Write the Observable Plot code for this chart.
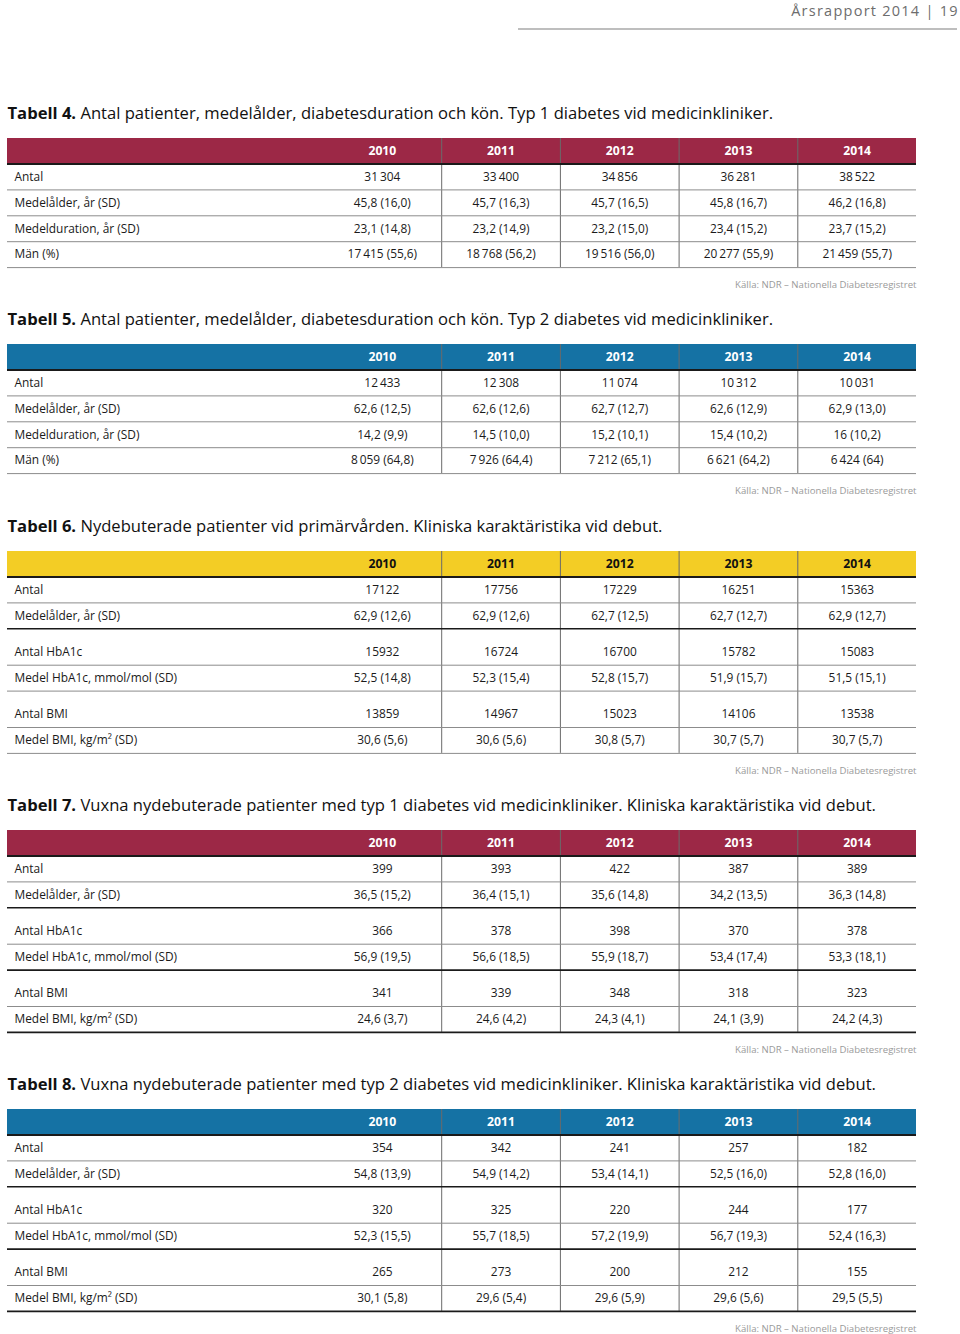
<!DOCTYPE html>
<html>
<head>
<meta charset="utf-8">
<script src="https://cdn.jsdelivr.net/npm/d3@7"></script>
<script src="https://cdn.jsdelivr.net/npm/@observablehq/plot@0.6"></script>
<style>
  html, body { margin: 0; padding: 0; background: #fff; }
  svg { display: block; }
</style>
</head>
<body>
<div id="chart"></div>
<script>
// ---------- DATA ----------
const years = ["2010", "2011", "2012", "2013", "2014"];
const pageHeader = "Årsrapport 2014 | 19";
const sourceNote = "Källa: NDR – Nationella Diabetesregistret";

const t4Title = ["Tabell 4.", "Antal patienter, medelålder, diabetesduration och kön. Typ 1 diabetes vid medicinkliniker."];
const t4Labels = ["Antal", "Medelålder, år (SD)", "Medelduration, år (SD)", "Män (%)"];
const t4Values = [
  ["31\u2009304", "33\u2009400", "34\u2009856", "36\u2009281", "38\u2009522"],
  ["45,8 (16,0)", "45,7 (16,3)", "45,7 (16,5)", "45,8 (16,7)", "46,2 (16,8)"],
  ["23,1 (14,8)", "23,2 (14,9)", "23,2 (15,0)", "23,4 (15,2)", "23,7 (15,2)"],
  ["17\u2009415 (55,6)", "18\u2009768 (56,2)", "19\u2009516 (56,0)", "20\u2009277 (55,9)", "21\u2009459 (55,7)"]
];

const t5Title = ["Tabell 5.", "Antal patienter, medelålder, diabetesduration och kön. Typ 2 diabetes vid medicinkliniker."];
const t5Labels = ["Antal", "Medelålder, år (SD)", "Medelduration, år (SD)", "Män (%)"];
const t5Values = [
  ["12\u2009433", "12\u2009308", "11\u2009074", "10\u2009312", "10\u2009031"],
  ["62,6 (12,5)", "62,6 (12,6)", "62,7 (12,7)", "62,6 (12,9)", "62,9 (13,0)"],
  ["14,2 (9,9)", "14,5 (10,0)", "15,2 (10,1)", "15,4 (10,2)", "16 (10,2)"],
  ["8\u2009059 (64,8)", "7\u2009926 (64,4)", "7\u2009212 (65,1)", "6\u2009621 (64,2)", "6\u2009424 (64)"]
];

const clinLabels = ["Antal", "Medelålder, år (SD)", "Antal HbA1c", "Medel HbA1c, mmol/mol (SD)", "Antal BMI", "Medel BMI, kg/m² (SD)"];

const t6Title = ["Tabell 6.", "Nydebuterade patienter vid primärvården. Kliniska karaktäristika vid debut."];
const t6Values = [
  ["17122", "17756", "17229", "16251", "15363"],
  ["62,9 (12,6)", "62,9 (12,6)", "62,7 (12,5)", "62,7 (12,7)", "62,9 (12,7)"],
  ["15932", "16724", "16700", "15782", "15083"],
  ["52,5 (14,8)", "52,3 (15,4)", "52,8 (15,7)", "51,9 (15,7)", "51,5 (15,1)"],
  ["13859", "14967", "15023", "14106", "13538"],
  ["30,6 (5,6)", "30,6 (5,6)", "30,8 (5,7)", "30,7 (5,7)", "30,7 (5,7)"]
];

const t7Title = ["Tabell 7.", "Vuxna nydebuterade patienter med typ 1 diabetes vid medicinkliniker. Kliniska karaktäristika vid debut."];
const t7Values = [
  ["399", "393", "422", "387", "389"],
  ["36,5 (15,2)", "36,4 (15,1)", "35,6 (14,8)", "34,2 (13,5)", "36,3 (14,8)"],
  ["366", "378", "398", "370", "378"],
  ["56,9 (19,5)", "56,6 (18,5)", "55,9 (18,7)", "53,4 (17,4)", "53,3 (18,1)"],
  ["341", "339", "348", "318", "323"],
  ["24,6 (3,7)", "24,6 (4,2)", "24,3 (4,1)", "24,1 (3,9)", "24,2 (4,3)"]
];

const t8Title = ["Tabell 8.", "Vuxna nydebuterade patienter med typ 2 diabetes vid medicinkliniker. Kliniska karaktäristika vid debut."];
const t8Values = [
  ["354", "342", "241", "257", "182"],
  ["54,8 (13,9)", "54,9 (14,2)", "53,4 (14,1)", "52,5 (16,0)", "52,8 (16,0)"],
  ["320", "325", "220", "244", "177"],
  ["52,3 (15,5)", "55,7 (18,5)", "57,2 (19,9)", "56,7 (19,3)", "52,4 (16,3)"],
  ["265", "273", "200", "212", "155"],
  ["30,1 (5,8)", "29,6 (5,4)", "29,6 (5,9)", "29,6 (5,6)", "29,5 (5,5)"]
];

// ---------- LAYOUT ----------
const W = 960, H = 1334;
const FONT = "'Open Sans', 'Noto Sans', sans-serif";
const titleSize = 16.6, cellSize = 11.9, headSize = 12.2, srcSize = 9.6;
const left = 7, right = 916, labelX = 14, colW = 118.7;
const colLeft = i => right - (years.length - i) * colW;
const colCenter = i => colLeft(i) + colW / 2;
const headerH = 25.5, rowH = 25.9, groupGap = 10.5;
const headerSpacing = 1.25;

const CRIMSON = "#9c2846", BLUE = "#1572a4", YELLOW = "#f3cd25";
const INK = "#1a1a1a", GRID = "#8c8c8c", DARK = "#1a1a1a";

const tables = [
  {title: t4Title, labels: t4Labels, values: t4Values, top: 138, fill: CRIMSON, headInk: "#fff", groups: [4], sepDark: [false], bottomDark: false},
  {title: t5Title, labels: t5Labels, values: t5Values, top: 344, fill: BLUE, headInk: "#fff", groups: [4], sepDark: [false], bottomDark: false},
  {title: t6Title, labels: clinLabels, values: t6Values, top: 551, fill: YELLOW, headInk: "#111", groups: [2, 2, 2], sepDark: [true, false], bottomDark: false},
  {title: t7Title, labels: clinLabels, values: t7Values, top: 830, fill: CRIMSON, headInk: "#fff", groups: [2, 2, 2], sepDark: [true, true], bottomDark: true},
  {title: t8Title, labels: clinLabels, values: t8Values, top: 1109, fill: BLUE, headInk: "#fff", groups: [2, 2, 2], sepDark: [true, true], bottomDark: true}
];

// text measurement for the bold/regular title split
const ctx = document.createElement("canvas").getContext("2d");
function textWidth(s, weight, size) {
  ctx.font = `${weight} ${size}px ${FONT}`;
  return ctx.measureText(s).width;
}

const headerRects = [], headerTexts = [], hRules = [], vRules = [];
const labelTexts = [], cellTexts = [], titleBold = [], titleReg = [], sources = [];

for (const t of tables) {
  titleBold.push({x: left, y: t.top - 25, text: t.title[0]});
  titleReg.push({x: left + textWidth(t.title[0], "bold", titleSize) + textWidth(" ", "normal", titleSize), y: t.top - 25, text: t.title[1]});
  headerRects.push({x1: left, x2: right, y1: t.top, y2: t.top + headerH, fill: t.fill});
  years.forEach((yr, i) => headerTexts.push({x: colCenter(i), y: t.top + headerH / 2, text: yr, ink: t.headInk}));
  let y = t.top + headerH;
  hRules.push({y, stroke: DARK, w: 2});
  let r = 0;
  t.groups.forEach((n, g) => {
    for (let k = 0; k < n; k++, r++) {
      const h = (g > 0 && k === 0) ? rowH + groupGap : rowH;
      const cy = y + h - rowH / 2;
      labelTexts.push({x: labelX, y: cy, text: t.labels[r]});
      t.values[r].forEach((v, i) => cellTexts.push({x: colCenter(i), y: cy, text: v}));
      y += h;
      const lastInGroup = k === n - 1;
      const isBottom = lastInGroup && g === t.groups.length - 1;
      let dark = false;
      if (isBottom) dark = t.bottomDark;
      else if (lastInGroup) dark = t.sepDark[g];
      hRules.push({y, stroke: dark ? DARK : GRID, w: dark ? 1.6 : 1});
    }
  });
  for (let i = 1; i < years.length; i++) vRules.push({x: colLeft(i), y1: t.top, y2: y});
  sources.push({x: right, y: y + 17.5, text: sourceNote});
}

const pageHead = [{x: 957, y: 11, text: pageHeader}];
const pageLine = [{y: 28.5, x1: 518, x2: 957}];

// ---------- PLOT ----------
const chart = Plot.plot({
  width: W,
  height: H,
  margin: 0,
  x: {type: "linear", domain: [0, W], range: [0, W], axis: null},
  y: {type: "linear", domain: [0, H], range: [0, H], axis: null},
  color: {type: "identity"},
  style: {fontFamily: FONT, background: "#fff", color: INK},
  marks: [
    Plot.text(pageHead, {x: "x", y: "y", text: "text", textAnchor: "end", dx: headerSpacing, fontSize: 14.5, fill: "#6d6d6d"}),
    Plot.ruleY(pageLine, {y: "y", x1: "x1", x2: "x2", stroke: "#a8a8a8", strokeWidth: 1.5}),
    Plot.rect(headerRects, {x1: "x1", x2: "x2", y1: "y1", y2: "y2", fill: "fill"}),
    Plot.ruleX(vRules, {x: "x", y1: "y1", y2: "y2", stroke: "#6a6a6a", strokeWidth: 1}),
    Plot.ruleY(hRules, {y: "y", x1: left, x2: right, stroke: "stroke", strokeWidth: "w"}),
    Plot.text(titleBold, {x: "x", y: "y", text: "text", textAnchor: "start", fontSize: titleSize, fontWeight: "bold", fill: "#111"}),
    Plot.text(titleReg, {x: "x", y: "y", text: "text", textAnchor: "start", fontSize: titleSize, fill: "#111"}),
    Plot.text(headerTexts, {x: "x", y: "y", text: "text", fill: "ink", fontSize: headSize, fontWeight: "bold"}),
    Plot.text(labelTexts, {x: "x", y: "y", text: "text", textAnchor: "start", fontSize: cellSize, fill: INK}),
    Plot.text(cellTexts, {x: "x", y: "y", text: "text", fontSize: cellSize, fill: INK}),
    Plot.text(sources, {x: "x", y: "y", text: "text", textAnchor: "end", fontSize: srcSize, fill: "#9a9a9a"})
  ]
});
// letter spacing of the running page header
d3.select(chart).selectAll("text")
  .filter(function () { return this.textContent === pageHeader; })
  .style("letter-spacing", headerSpacing + "px");
document.getElementById("chart").appendChild(chart);
</script>
</body>
</html>
